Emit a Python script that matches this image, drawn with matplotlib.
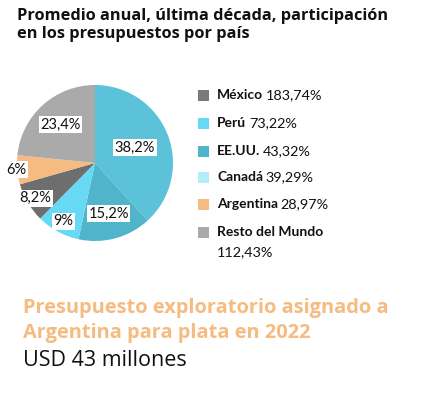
import numpy as np
import matplotlib
matplotlib.use("Agg")
import matplotlib.pyplot as plt

slice_values = [38.2, 15.2, 9, 8.2, 6, 23.4]
slice_labels = ["38,2%", "15,2%", "9%", "8,2%", "6%", "23,4%"]
slice_colors = ["#5BC2DA", "#50B4CA", "#66D9F5", "#6E6E6E", "#F5BB80", "#AAAAAA"]
label_dist = [0.55, 0.67, 0.85, 0.89, 1.01, 0.66]

legend_names = ["México", "Perú", "EE.UU.", "Canadá", "Argentina", "Resto del Mundo"]
legend_values = ["183,74%", "73,22%", "43,32%", "39,29%", "28,97%", "112,43%"]
legend_colors = ["#7A7A7A", "#66D9F5", "#50B4CA", "#B3EDFA", "#F5BB80", "#AAAAAA"]

FONT = "Lato"
WIDE = "Open Sans"
W, H = 421, 395
fig = plt.figure(figsize=(W / 100, H / 100), dpi=100)
fig.patch.set_facecolor("white")

def fx(px):
    return px / W

def fy(py):
    return 1 - py / H

# Title
fig.text(fx(17), fy(16), "Promedio anual, última década, participación",
         fontsize=11.8, fontweight="bold", family=WIDE, va="center", ha="left", color="#111111")
fig.text(fx(17), fy(34), "en los presupuestos por país",
         fontsize=11.8, fontweight="bold", family=WIDE, va="center", ha="left", color="#111111")

# Pie
cx, cy, r = 95, 163, 78
ax = fig.add_axes([fx(cx - r), fy(cy + r), 2 * r / W, 2 * r / H])
wedges, _ = ax.pie(slice_values, colors=slice_colors, startangle=90, counterclock=False,
                   radius=1, wedgeprops=dict(linewidth=0))
ax.set_xlim(-1, 1)
ax.set_ylim(-1, 1)
ax.set_aspect("equal")
ax.axis("off")
for w, lab, d in zip(wedges, slice_labels, label_dist):
    ang = np.deg2rad((w.theta1 + w.theta2) / 2)
    ax.text(d * np.cos(ang), d * np.sin(ang), lab, ha="center", va="center",
            fontsize=10.5, family=FONT, color="#111111",
            bbox=dict(boxstyle="square,pad=0.1", facecolor="white", edgecolor="none"))

# Legend
rows_y = [95, 123, 151, 177, 204, 232]
for i, (name, val, col) in enumerate(zip(legend_names, legend_values, legend_colors)):
    y = rows_y[i]
    fig.patches.append(plt.Rectangle((fx(198), fy(y + 6)), 11 / W, 11 / H,
                                     transform=fig.transFigure, facecolor=col,
                                     edgecolor="none"))
    t = fig.text(fx(217), fy(y), name, fontsize=10, fontweight="bold", family=FONT,
                 va="center", ha="left", color="#111111")
    if i < len(legend_names) - 1:
        plt.annotate(val, xy=(1, 0.5), xycoords=t, xytext=(2, 0),
                     textcoords="offset points", va="center", ha="left",
                     fontsize=10.4, family=FONT, color="#111111",
                     annotation_clip=False)
    else:
        fig.text(fx(217), fy(252), val, fontsize=10.4, family=FONT,
                 va="center", ha="left", color="#111111")

# Bottom text
fig.text(fx(23), fy(308), "Presupuesto exploratorio asignado a", fontsize=14.4,
         fontweight="bold", family=WIDE, color="#F5BB80", va="center", ha="left")
fig.text(fx(23), fy(333), "Argentina para plata en 2022", fontsize=14.4,
         fontweight="bold", family=WIDE, color="#F5BB80", va="center", ha="left")
fig.text(fx(23), fy(360), "USD 43 millones", fontsize=15.5, family=WIDE,
         color="#111111", va="center", ha="left")

fig.savefig("out.png", dpi=100, facecolor="white")
